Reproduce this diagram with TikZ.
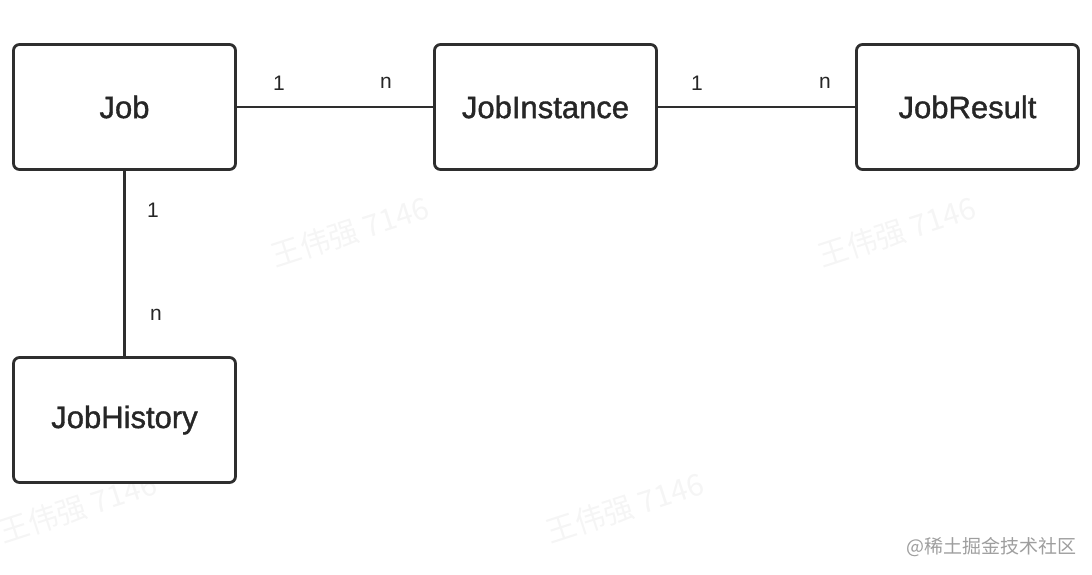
\documentclass[tikz,border=0pt]{standalone}
\usepackage{fontspec}
\setmainfont{Liberation Sans}
\newfontfamily\medfont[FakeBold=1.2]{Liberation Sans}
\newfontfamily\cjk{Noto Sans CJK SC}
\begin{document}
\begin{tikzpicture}[x=1pt,y=-1pt,
  entity/.style={draw=black!82, line width=2.8pt, rounded corners=6pt, fill=white,
    minimum width=222pt, minimum height=125pt, inner sep=0pt,
    font=\medfont\fontsize{31}{36}\selectfont, text=black!85},
  conn/.style={draw=black!82, line width=2.6pt},
  card/.style={font=\fontsize{21}{24}\selectfont, text=black!85, inner sep=0pt},
  wm/.style={font=\cjk\fontsize{30}{34}\selectfont, text=black!4, rotate=18, inner sep=0pt}]
\useasboundingbox (0,0) rectangle (1092,574);
% watermarks
\node[wm] (w1) at (350,232) {王伟强 7146};
\node[wm] (w2) at (897,232) {王伟强 7146};
\node[wm] (w3) at (78,508) {王伟强 7146};
\node[wm] (w4) at (625,508) {王伟强 7146};
\node[font=\cjk\fontsize{19}{22}\selectfont, text=black!38, inner sep=0pt, anchor=east] (wmk) at (1077,547) {@稀土掘金技术社区};
% entities
\node[entity] (job) at (124.5,107) {Job};
\node[entity] (inst) at (545.5,107) {JobInstance};
\node[entity] (res) at (967.5,107) {JobResult};
\node[entity] (hist) at (124.5,420) {JobHistory};
% connectors
\draw[conn] (job.east) -- (inst.west);
\draw[conn] (inst.east) -- (res.west);
\draw[conn] (job.south) -- (hist.north);
% cardinalities
\node[card] (c1) at (279,83) {1};
\node[card] (c2) at (386,83) {n};
\node[card] (c3) at (697,83) {1};
\node[card] (c4) at (825,83) {n};
\node[card] (c5) at (153,210) {1};
\node[card] (c6) at (156,315) {n};
\end{tikzpicture}
\end{document}
